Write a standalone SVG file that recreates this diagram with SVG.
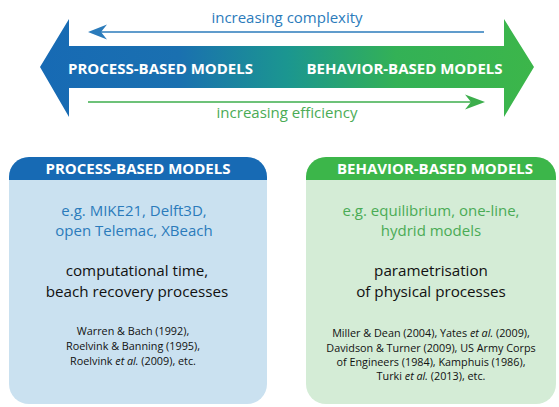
<svg xmlns="http://www.w3.org/2000/svg" width="559" height="407" viewBox="0 0 559 407">
<defs>
<linearGradient id="grad" x1="40" y1="0" x2="534" y2="0" gradientUnits="userSpaceOnUse">
<stop offset="0" stop-color="#176ab4"/>
<stop offset="0.28" stop-color="#1a70b0"/>
<stop offset="0.5" stop-color="#1b9690"/>
<stop offset="0.72" stop-color="#33b156"/>
<stop offset="1" stop-color="#3cb64a"/>
</linearGradient>
<style>
text{font-family:"Open Sans","Noto Sans","Liberation Sans",sans-serif;text-anchor:middle}
.big{font-weight:bold;font-size:15px;fill:#ffffff}
.hdr{font-weight:bold;font-size:15px;fill:#ffffff}
.blue{fill:#2b7bbb;font-size:15px}
.green{fill:#4aab55;font-size:15px}
.blk{fill:#111111;font-size:15.2px}
.ref{fill:#111111;font-size:10.8px}
</style>
</defs>
<g id="big-arrow">
<path d="M40,67 L69,19 L69,46 L504,46 L504,19 L534,67 L504,117 L504,88 L69,88 L69,117 Z" fill="url(#grad)"/>
<text class="big" x="160.5" y="73.5">PROCESS-BASED MODELS</text>
<text class="big" x="404.5" y="73.5">BEHAVIOR-BASED MODELS</text>
</g>
<g id="connectors">
<g id="complexity-arrow">
<line x1="100" y1="32" x2="484" y2="32" stroke="#2b7bbb" stroke-width="1.5"/>
<path d="M88,32 L107,24.5 L101,32 L107,39.5 Z" fill="#2b7bbb"/>
</g>
<g id="efficiency-arrow">
<line x1="88" y1="102" x2="473" y2="102" stroke="#3cae4c" stroke-width="1.5"/>
<path d="M485,102 L465,94.5 L471,102 L465,109.5 Z" fill="#3cae4c"/>
</g>
</g>
<text class="blue" x="287" y="23">increasing complexity</text>
<text class="green" x="287" y="118">increasing efficiency</text>
<g id="process-box">
<rect x="9" y="157" width="258" height="247" rx="20" fill="#cae1f0"/>
<path d="M9,180 V177 A20,20 0 0 1 29,157 H247 A20,20 0 0 1 267,177 V180 Z" fill="#176ab4"/>
<text class="hdr" x="138" y="174">PROCESS-BASED MODELS</text>
<text class="blue" x="134" y="216">e.g. MIKE21, Delft3D,</text>
<text class="blue" x="134" y="236">open Telemac, XBeach</text>
<text class="blk" x="137" y="276">computational time,</text>
<text class="blk" x="137" y="297">beach recovery processes</text>
<text class="ref" x="133" y="335">Warren &amp; Bach (1992),</text>
<text class="ref" x="133" y="350">Roelvink &amp; Banning (1995),</text>
<text class="ref" x="133" y="365">Roelvink <tspan font-style="italic">et al.</tspan> (2009), etc.</text>
</g>
<g id="behavior-box">
<rect x="306" y="157" width="250" height="247" rx="20" fill="#d4ecd6"/>
<path d="M306,180 V177 A20,20 0 0 1 326,157 H536 A20,20 0 0 1 556,177 V180 Z" fill="#3cb64a"/>
<text class="hdr" x="435" y="174">BEHAVIOR-BASED MODELS</text>
<text class="green" x="431" y="216">e.g. equilibrium, one-line,</text>
<text class="green" x="431" y="236">hydrid models</text>
<text class="blk" x="431" y="276">parametrisation</text>
<text class="blk" x="431" y="297">of physical processes</text>
<text class="ref" x="431" y="337">Miller &amp; Dean (2004), Yates <tspan font-style="italic">et al.</tspan> (2009),</text>
<text class="ref" x="431" y="352">Davidson &amp; Turner (2009), US Army Corps</text>
<text class="ref" x="431" y="366">of Engineers (1984), Kamphuis (1986),</text>
<text class="ref" x="431" y="380">Turki <tspan font-style="italic">et al.</tspan> (2013), etc.</text>
</g>
</svg>
